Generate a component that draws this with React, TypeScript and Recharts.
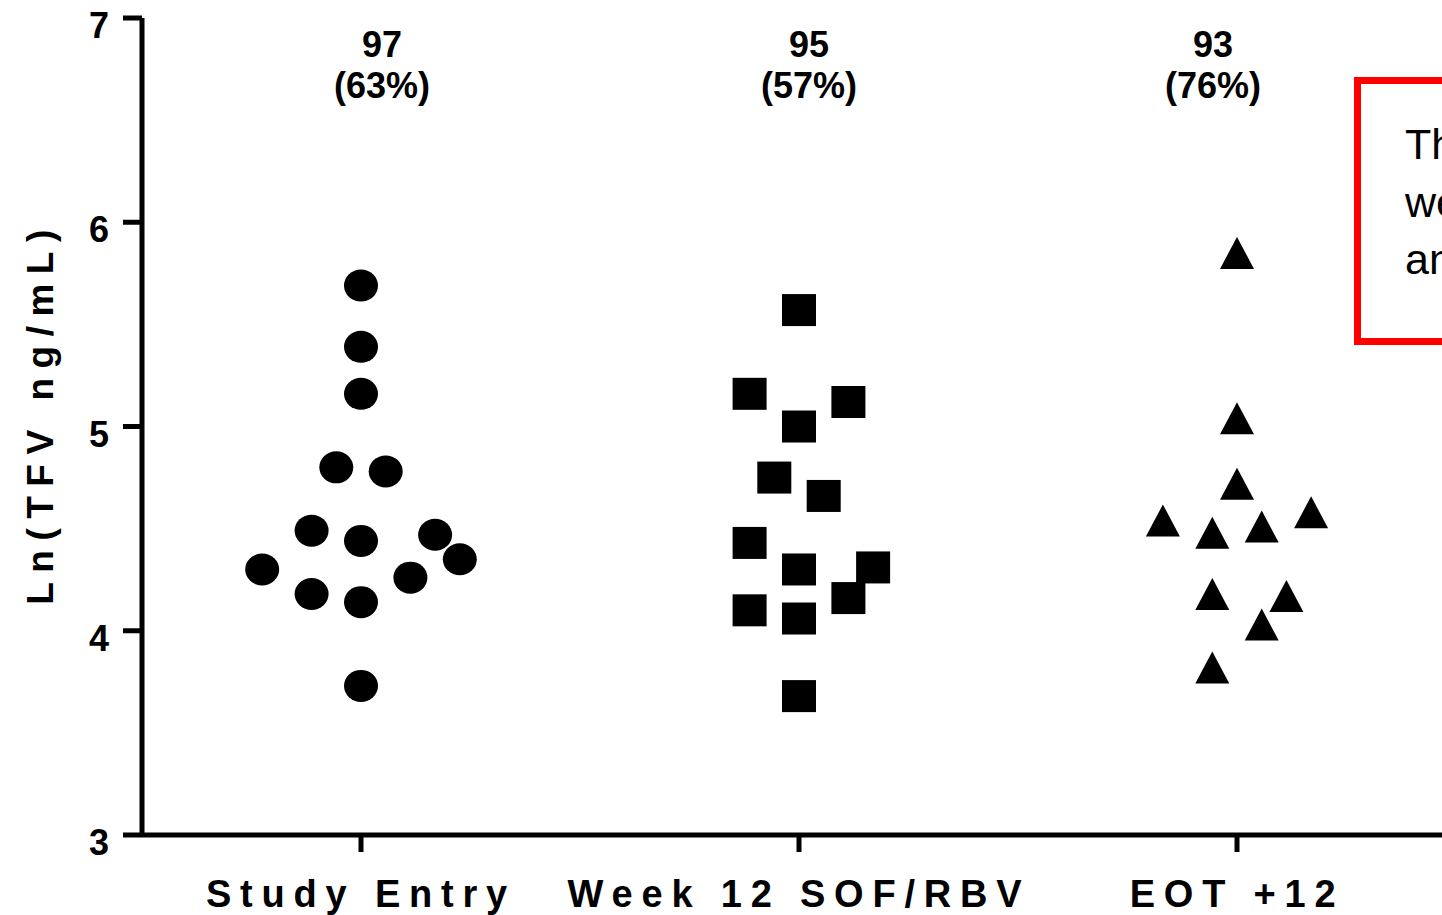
import { Scatter, ScatterChart, XAxis, YAxis } from "recharts";

const categories = ["Study Entry", "Week 12 SOF/RBV", "EOT +12"];
const yTicks = [3, 4, 5, 6, 7];

// Ln(TFV) per visit; slot = horizontal jitter position of the point
const entryValues = [5.69, 5.39, 5.16, 4.8, 4.78, 4.49, 4.44, 4.47, 4.3, 4.35, 4.26, 4.18, 4.14, 3.73];
const entrySlots = [0, 0, 0, -1, 1, -2, 0, 3, -4, 4, 2, -2, 0, 0];

const week12Values = [5.57, 5.16, 5.12, 5.0, 4.75, 4.66, 4.43, 4.3, 4.31, 4.16, 4.1, 4.06, 3.68];
const week12Slots = [0, -2, 2, 0, -1, 1, -2, 0, 3, 2, -2, 0, 0];

const eotValues = [5.85, 5.04, 4.72, 4.54, 4.48, 4.51, 4.58, 4.18, 4.17, 4.03, 3.82];
const eotSlots = [0, 0, 0, -3, -1, 1, 3, -1, 2, 1, -1];

const counts = [97, 95, 93];
const percents = [63, 57, 76];

const boxLines = ["The differences", "were not significant", "and TFV levels"];

// layout
const JITTER = 0.0564;
const ANNOT_DX = [0.048, 0.023, -0.055];
const FONT = "Arial, 'Liberation Sans', sans-serif";

const toPoints = (cat: number, values: number[], slots: number[]) =>
  values.map((v, i) => ({ x: cat + slots[i] * JITTER, y: v }));

const entryData = toPoints(1, entryValues, entrySlots);
const week12Data = toPoints(2, week12Values, week12Slots);
const eotData = toPoints(3, eotValues, eotSlots);
const annotData = counts.map((n, i) => ({ x: i + 1 + ANNOT_DX[i], y: 7, n, pct: percents[i] }));

const Dot = (p: any) => <ellipse cx={p.cx} cy={p.cy} rx={17} ry={16} fill="#000" />;
const Square = (p: any) => <rect x={p.cx - 17} y={p.cy - 16} width={34} height={32} fill="#000" />;
const Tri = (p: any) => (
  <polygon
    points={`${p.cx},${p.cy - 16} ${p.cx - 17},${p.cy + 16} ${p.cx + 17},${p.cy + 16}`}
    fill="#000"
  />
);

const Annot = (p: any) => (
  <g fontFamily={FONT} fontWeight="bold" fontSize={36} fill="#000" textAnchor="middle">
    <text x={p.cx} y={p.cy + 39}>{p.payload.n}</text>
    <text x={p.cx} y={p.cy + 80}>{`(${p.payload.pct}%)`}</text>
  </g>
);

const XTick = ({ x, y, payload }: any) => (
  <text
    x={x}
    y={y + 53}
    textAnchor="middle"
    fontFamily={FONT}
    fontWeight="bold"
    fontSize={38}
    letterSpacing={8.8}
    fill="#000"
  >
    {categories[Math.round(payload.value) - 1]}
  </text>
);

const YTick = ({ x, y, payload }: any) => (
  <text x={x} y={y + 20} textAnchor="end" fontFamily={FONT} fontWeight="bold" fontSize={36} fill="#000">
    {payload.value}
  </text>
);

const YLabel = (props: any) => {
  const vb = props.viewBox || { x: 0, y: 18, width: 142, height: 817 };
  const cx = vb.x + 53;
  const cy = vb.y + vb.height / 2 - 14;
  return (
    <text
      x={cx}
      y={cy}
      transform={`rotate(-90, ${cx}, ${cy})`}
      textAnchor="middle"
      fontFamily={FONT}
      fontWeight="bold"
      fontSize={37}
      letterSpacing={9.5}
      fill="#000"
    >
      Ln(TFV ng/mL)
    </text>
  );
};

const axisStroke = { stroke: "#000", strokeWidth: 5 };

export default function App() {
  return (
    <div
      style={{
        position: "absolute",
        left: 0,
        top: 0,
        width: 1442,
        height: 915,
        overflow: "hidden",
        background: "#fff",
      }}
    >
      <ScatterChart width={1456} height={915} margin={{ top: 18, right: 0, bottom: 0, left: 0 }}>
        <XAxis
          type="number"
          dataKey="x"
          domain={[0.5, 3.5]}
          ticks={[1, 2, 3]}
          height={80}
          tickSize={17}
          tickMargin={2}
          axisLine={axisStroke}
          tickLine={axisStroke}
          tick={<XTick />}
          allowDataOverflow
        />
        <YAxis
          type="number"
          dataKey="y"
          domain={[3, 7]}
          ticks={yTicks}
          width={142}
          tickSize={19}
          tickMargin={14}
          axisLine={axisStroke}
          tickLine={axisStroke}
          tick={<YTick />}
          label={{ content: YLabel }}
          allowDataOverflow
        />
        <Scatter data={entryData} shape={Dot} isAnimationActive={false} />
        <Scatter data={week12Data} shape={Square} isAnimationActive={false} />
        <Scatter data={eotData} shape={Tri} isAnimationActive={false} />
        <Scatter data={annotData} shape={Annot} isAnimationActive={false} />
      </ScatterChart>
      <div
        style={{
          position: "absolute",
          left: 1354,
          top: 77,
          width: 400,
          height: 268,
          boxSizing: "border-box",
          border: "7px solid #ff0000",
          paddingLeft: 44,
          paddingTop: 32,
          fontFamily: FONT,
          fontSize: 43,
          lineHeight: "57.5px",
          color: "#000",
          whiteSpace: "nowrap",
        }}
      >
        {boxLines.map((l) => (
          <div key={l}>{l}</div>
        ))}
      </div>
    </div>
  );
}
